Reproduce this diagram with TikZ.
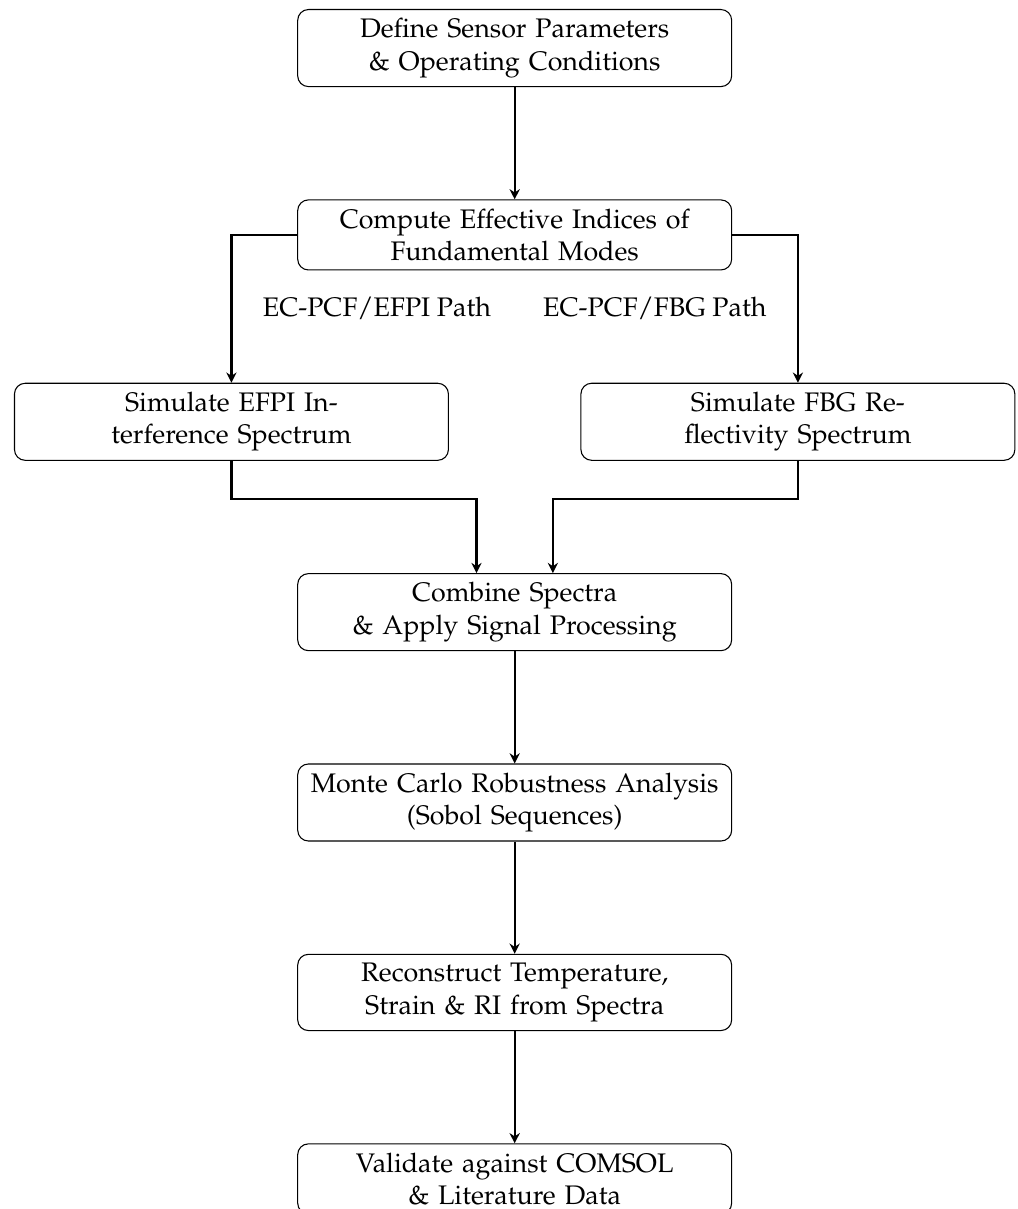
\documentclass[tikz,border=0pt]{standalone}
\usepackage[T1]{fontenc}
\usepackage{mathpazo}
\usetikzlibrary{arrows, arrows.meta}
\usetikzlibrary{calc}
\usetikzlibrary{positioning}

\begin{document}
\begin{tikzpicture}[node distance=1.47cm,
    stage/.style={rectangle, rounded corners, draw, text width=5.45cm, align=center, inner sep=0.3333em},
    flow/.style={thick, -{Stealth[length=3.8pt, width=3.8pt]}}]
      \node[stage] (define) {Define Sensor Parameters\\ \& Operating Conditions};
      \node[stage, below=of define] (modes) {Compute Effective Indices of\\ Fundamental Modes};
      \node[stage, below=of modes, xshift=-3.71cm] (efpi) {Simulate EFPI Interference Spectrum};
      \node[stage, below=of modes, xshift=3.71cm] (fbg) {Simulate FBG Reflectivity Spectrum};
      \coordinate (join) at (efpi.south -| modes.south);
      \node[stage, below=of join] (combine) {Combine Spectra\\ \& Apply Signal Processing};
      \node[stage, below=of combine] (montecarlo) {Monte Carlo Robustness Analysis\\ (Sobol Sequences)};
      \node[stage, below=of montecarlo] (reconstruct) {Reconstruct Temperature,\\ Strain \& RI from Spectra};
      \node[stage, below=of reconstruct] (validate) {Validate against COMSOL\\ \& Literature Data};

      \draw[flow] (define) -- (modes);
      \draw[flow] (modes.west) -| (efpi.north) node[pos=0.75, right=8pt] {EC-PCF/EFPI Path};
      \draw[flow] (modes.east) -| (fbg.north) node[pos=0.75, left=8pt] {EC-PCF/FBG Path};
      \draw[flow] (efpi.south) -- ++(0,-0.5) -| ([xshift=-0.5cm]combine.north);
      \draw[flow] (fbg.south) -- ++(0,-0.5) -| ([xshift=0.5cm]combine.north);
      \draw[flow] (combine) -- (montecarlo);
      \draw[flow] (montecarlo) -- (reconstruct);
      \draw[flow] (reconstruct) -- (validate);

      \pgfresetboundingbox
      \useasboundingbox ($(efpi.west |- define.north)+(-5.2pt,3.35pt)$) rectangle ($(fbg.east |- define.north)+(0.75pt,-447.25pt)$);
    \end{tikzpicture}
\end{document}
